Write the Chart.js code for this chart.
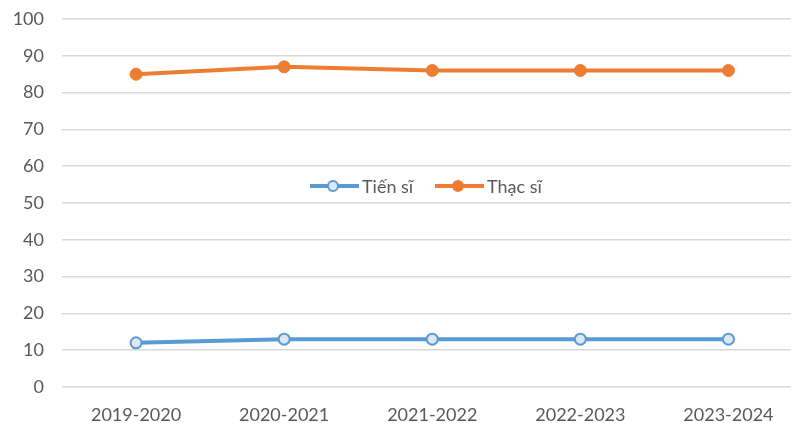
<!DOCTYPE html>
<html>
<head>
<meta charset="utf-8">
<script src="https://cdn.jsdelivr.net/npm/chart.js@4/dist/chart.umd.min.js"></script>
<style>
  html, body { margin: 0; padding: 0; background: #fff; overflow: hidden; }
  #c { display: block; }
</style>
</head>
<body>
<canvas id="c" width="810" height="423"></canvas>
<script>
// Academic years on the x axis
const categories = ['2019-2020', '2020-2021', '2021-2022', '2022-2023', '2023-2024'];
// Series values
const tienSi = [12, 13, 13, 13, 13];
const thacSi = [85, 87, 86, 86, 86];
// Series names
const seriesNames = ['Tiến sĩ', 'Thạc sĩ'];
// Y axis ticks
const yTicks = [0, 10, 20, 30, 40, 50, 60, 70, 80, 90, 100];

const BLUE = '#5B9BD5';
const ORANGE = '#ED7D31';
const TEXT = '#595959';
const FONT = 'Lato, "Open Sans", sans-serif';

// Legend drawn inside the plot area, centred between the two series
const innerLegend = {
  id: 'innerLegend',
  afterDraw(chart) {
    const ctx = chart.ctx;
    const y = chart.scales.y.getPixelForValue(50) - 17;
    const items = [
      { name: seriesNames[0], color: BLUE, hollow: true, x: 310 },
      { name: seriesNames[1], color: ORANGE, hollow: false, x: 435 }
    ];
    ctx.save();
    ctx.font = '18px ' + FONT;
    ctx.textBaseline = 'middle';
    items.forEach(it => {
      ctx.strokeStyle = it.color;
      ctx.lineWidth = 4;
      ctx.beginPath();
      ctx.moveTo(it.x, y);
      ctx.lineTo(it.x + 49, y);
      ctx.stroke();
      ctx.beginPath();
      ctx.arc(it.x + 23, y, 5, 0, Math.PI * 2);
      ctx.fillStyle = it.hollow ? '#DCE9F5' : it.color;
      ctx.fill();
      ctx.lineWidth = 2;
      ctx.stroke();
      ctx.fillStyle = TEXT;
      ctx.fillText(it.name, it.x + 52, y + 1);
    });
    ctx.restore();
  }
};

new Chart(document.getElementById('c'), {
  type: 'line',
  data: {
    labels: categories,
    datasets: [
      {
        label: seriesNames[0],
        data: tienSi,
        borderColor: BLUE,
        borderWidth: 4,
        pointRadius: 5.5,
        pointBorderWidth: 2,
        pointBackgroundColor: '#DCE9F5',
        pointBorderColor: BLUE,
        tension: 0
      },
      {
        label: seriesNames[1],
        data: thacSi,
        borderColor: ORANGE,
        borderWidth: 4,
        pointRadius: 6,
        pointBorderWidth: 1,
        pointBackgroundColor: ORANGE,
        pointBorderColor: ORANGE,
        tension: 0
      }
    ]
  },
  options: {
    responsive: false,
    animation: false,
    layout: { padding: { top: 19, right: 0, left: 0, bottom: 0 } },
    plugins: {
      legend: { display: false },
      tooltip: { enabled: false }
    },
    scales: {
      x: {
        offset: true,
        border: { display: false },
        grid: { display: false, drawTicks: false },
        ticks: {
          color: TEXT,
          font: { family: FONT, size: 18 },
          padding: 17,
          maxRotation: 0
        },
        afterFit(s) {
          s.height = 36;
        }
      },
      y: {
        min: 0,
        max: 100,
        border: { display: false },
        afterBuildTicks(s) { s.ticks = yTicks.map(v => ({ value: v })); },
        grid: { color: '#D9D9D9', lineWidth: 1.5, drawTicks: false },
        ticks: {
          color: TEXT,
          font: { family: FONT, size: 18 },
          padding: 18
        },
        afterFit(s) {
          s.width = 62;
          s.paddingTop = 0;
          s.paddingBottom = 0;
        }
      }
    }
  },
  plugins: [innerLegend]
});
</script>
</body>
</html>
